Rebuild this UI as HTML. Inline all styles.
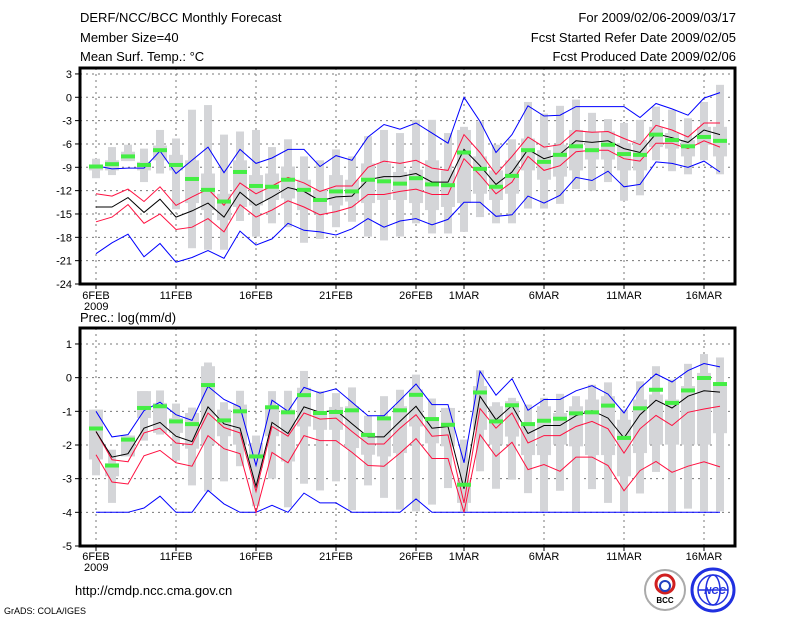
<!DOCTYPE html>
<html><head><meta charset="utf-8"><style>
body{margin:0;background:#fff;width:800px;height:618px;overflow:hidden;font-family:"Liberation Sans",sans-serif}
svg{position:absolute;left:0;top:0}
</style></head><body>
<svg id="c" width="800" height="618" xmlns="http://www.w3.org/2000/svg"></svg>
<script>
const dayLabels=["6FEB","11FEB","16FEB","21FEB","26FEB","1MAR","6MAR","11MAR","16MAR"];
const dayLabelIdx=[0,5,10,15,20,23,28,33,38];
const tTicks=[3,0,-3,-6,-9,-12,-15,-18,-21,-24];
const pTicks=[1,0,-1,-2,-3,-4,-5];
// Temperature
const tMean=[-14.1,-14.1,-12.9,-14.8,-13.1,-15.4,-14.6,-13.6,-15.4,-12.2,-13.9,-12.8,-11.6,-12.1,-13.3,-12.8,-12.7,-10.6,-10.2,-10.2,-9.8,-10.9,-10.9,-6.7,-8.8,-11.2,-9.6,-6.7,-7.9,-7.3,-5.6,-5.8,-5.6,-6.6,-7.1,-4.7,-5.2,-5.8,-4.2,-4.8];
const tRedHi=[-12.4,-12.7,-11.8,-13.4,-11.5,-13.9,-12.8,-11.8,-13.9,-11,-12.4,-11.4,-10.3,-11,-12.1,-11.4,-11.4,-9,-8.2,-8.5,-8.1,-9.1,-9.4,-4.8,-7.1,-9.9,-7.6,-5.1,-6.4,-6.1,-4.3,-4.5,-4.4,-5.3,-6.1,-3.6,-4.2,-5.1,-3.3,-3.3];
const tRedLo=[-16,-15.4,-13.8,-16.2,-15,-17,-16.7,-15.6,-17.3,-13.8,-15.4,-14.5,-13.3,-14.1,-15.1,-14.7,-14.1,-12.5,-12.5,-12.1,-11.8,-12.5,-12.5,-7.9,-10,-12.4,-10.9,-7.6,-9.4,-8.8,-7,-6.8,-6.8,-7.9,-8.2,-5.9,-5.9,-6.6,-5.6,-6.4];
const tBlueHi=[-8.8,-9.2,-9.1,-9.1,-6.9,-9.8,-8.1,-6.4,-9.7,-6.7,-8.5,-7.8,-6.7,-6.7,-8.9,-7.5,-8.1,-5.1,-3.5,-4.1,-3.3,-4.6,-5.9,0,-3.1,-7.1,-4.8,-1.1,-2.4,-2.3,-1.2,-1.2,-1.2,-1.2,-2.6,-0.8,-1.5,-2.3,-0.1,0.6];
const tBlueLo=[-20.1,-18.7,-17.6,-20.5,-18.8,-21.2,-20.6,-19.7,-20.7,-17.2,-19,-18.2,-16.2,-17.1,-17.3,-17.7,-16.9,-15.6,-16.7,-15.9,-15.6,-16.4,-15.7,-13.5,-13.5,-15.3,-15.1,-12.7,-13.6,-12.6,-10.3,-10.7,-9.5,-11.5,-11.2,-8.3,-8.5,-9,-8.2,-9.6];
const tGreen=[-8.9,-8.6,-7.6,-8.7,-6.8,-8.7,-10.5,-11.9,-13.4,-9.6,-11.4,-11.5,-10.6,-11.9,-13.2,-12.1,-12.1,-10.6,-10.8,-11.1,-10.4,-11.2,-11.3,-7.1,-9.2,-11.5,-10.1,-6.8,-8.3,-7.4,-6.3,-6.8,-6.1,-7.3,-7.4,-4.8,-5.5,-6.3,-5.1,-5.6];
const tWhiskHi=[-7.9,-6.4,-6.1,-6.6,-4.2,-5.3,-1.6,-1,-4.8,-4.4,-4.2,-6.4,-5.4,-7.6,-8.1,-6.7,-7.6,-5,-4.2,-4.6,-2.9,-2.9,-4.6,-3.8,-3.1,-6.1,-5.4,-0.6,-2.1,-1.1,-0.3,-2,-2.8,-3.3,-2.9,-1.2,-1.6,-2.7,-0.6,1.6];
const tWhiskLo=[-10.4,-10,-8.2,-10.9,-9.8,-14.4,-19.4,-19.6,-19.6,-15.9,-17.9,-16.2,-16.7,-18.7,-18.2,-16.7,-16,-17.9,-18.4,-17.9,-16.2,-17.5,-17.5,-17.3,-15.4,-16.2,-16.2,-14.3,-14.3,-13.7,-11.8,-12,-10.9,-13.3,-12.6,-8.1,-9.5,-9.9,-8.1,-9.9];
const tBoxHi=[-8.8,-8.1,-7,-8.3,-6.2,-7.4,-8.1,-9.8,-12.4,-8.1,-10,-9.8,-8.9,-10.6,-11.9,-10,-10.6,-8.5,-8.5,-9.6,-9.3,-8.1,-9.4,-4.2,-7.6,-9.4,-8.1,-5.3,-6.8,-6.1,-4.2,-4.4,-4.4,-5.9,-5.5,-3.8,-4.6,-5.5,-3.8,-3.8];
const tBoxLo=[-9.4,-9.4,-8.2,-9.4,-8.1,-9.4,-13.6,-14.5,-15.8,-14.1,-13.9,-13.2,-13,-14.5,-14.9,-13.9,-13.4,-13.6,-13.2,-13.2,-13.6,-14.5,-14.1,-13.6,-12.4,-13.2,-12.4,-9.4,-10.6,-10.2,-9.4,-8,-8,-9.4,-9.4,-6.4,-6.6,-7.6,-6.1,-7.6];
// Precip
const pMean=[-1.6,-2.36,-2.26,-1.5,-1.33,-1.74,-1.9,-0.87,-1.37,-1.5,-3.23,-1.33,-1.66,-0.87,-1.03,-0.97,-1.37,-1.76,-1.76,-1.3,-0.85,-1.5,-1.45,-3.3,-0.55,-1.25,-0.83,-1.66,-1.42,-1.42,-1.13,-0.98,-1.2,-1.79,-1.1,-0.67,-0.9,-0.55,-0.39,-0.43];
const pRedHi=[-1.6,-2.44,-2.5,-1.64,-1.5,-1.94,-1.99,-1.05,-1.48,-1.64,-3.38,-1.45,-1.74,-1.05,-1.23,-1.2,-1.6,-1.97,-1.97,-1.5,-1.1,-1.74,-1.7,-3.72,-0.92,-1.5,-1.05,-1.94,-1.72,-1.72,-1.45,-1.3,-1.52,-2.24,-1.52,-1.12,-1.42,-1.03,-0.93,-0.85];
const pRedLo=[-2.29,-3.1,-3.16,-2.32,-2.16,-2.53,-2.63,-1.72,-2.11,-2.26,-4,-2.22,-2.53,-1.72,-1.87,-1.87,-2.22,-2.61,-2.63,-2.24,-1.81,-2.4,-2.4,-4,-1.69,-2.34,-1.92,-2.73,-2.58,-2.78,-2.36,-2.36,-2.61,-3.36,-2.76,-2.49,-2.81,-2.63,-2.5,-2.65];
const pBlueHi=[-1,-1.76,-1.69,-0.98,-0.73,-1.1,-1.27,-0.26,-0.65,-0.87,-2.61,-0.67,-1,-0.29,-0.46,-0.33,-0.73,-1.13,-1.13,-0.67,-0.19,-0.8,-0.8,-2.53,0.19,-0.52,-0.03,-0.97,-0.65,-0.65,-0.39,-0.24,-0.49,-1.05,-0.31,0.11,-0.13,0.21,0.42,0.32];
const pBlueLo=[-4,-4,-4,-3.87,-3.52,-4,-4,-3.35,-3.75,-4,-4,-3.79,-4,-3.43,-3.72,-3.72,-4,-4,-4,-4,-3.6,-4,-4,-4,-4,-4,-4,-4,-4,-4,-4,-4,-4,-4,-4,-4,-4,-4,-4,-4];
const pGreen=[-1.51,-2.61,-1.84,-0.9,-0.85,-1.3,-1.38,-0.22,-1.27,-1,-2.34,-0.88,-1.03,-0.52,-1.05,-1.02,-0.97,-1.7,-1.21,-0.97,-0.51,-1.23,-1.4,-3.18,-0.44,-1.3,-0.82,-1.38,-1.28,-1.22,-1.06,-1.03,-0.83,-1.79,-0.91,-0.36,-0.75,-0.38,-0.01,-0.19];
const pWhiskHi=[-0.95,-2.14,-1.72,-0.4,-0.38,-0.77,-0.89,0.45,-0.73,-0.39,-1.72,-0.4,-0.39,0.2,-0.4,-0.46,-0.29,-1.13,-0.55,-0.36,0.09,-0.62,-0.9,-1.84,0.22,-0.73,-0.6,-0.8,-0.6,-0.48,-0.55,-0.21,-0.14,-0.95,-0.11,0.34,-0.06,0.41,0.7,0.6];
const pWhiskLo=[-2.9,-3.72,-2.34,-1.87,-1.69,-2.46,-3.2,-3.38,-3.08,-2.63,-3.82,-3,-3.85,-3.15,-3.35,-3.08,-3.94,-3.2,-3.57,-3.92,-3.97,-3.77,-3.28,-3.97,-2.78,-3.3,-3.03,-3.43,-3.97,-3.36,-3.97,-3.31,-3.72,-3.97,-3.44,-2.8,-3.97,-3.89,-3.97,-3.97];
const pBoxHi=[-0.95,-2.54,-1.72,-0.4,-0.75,-1.2,-1.05,0.34,-0.95,-0.8,-1.94,-0.85,-0.95,-0.3,-1.05,-0.87,-0.85,-1.65,-1.15,-0.85,-0.35,-1.2,-0.9,-3.03,-0.25,-0.85,-0.7,-1.35,-0.85,-1.05,-0.85,-0.65,-0.55,-1.25,-0.65,-0.5,-0.65,-0.25,0.14,-0.25];
const pBoxLo=[-2.43,-2.93,-2.34,-1.2,-1.64,-1.64,-2.11,-1.99,-1.74,-1.99,-2.68,-1.74,-2.49,-1.45,-1.55,-1.55,-2.09,-2.29,-2.34,-2.24,-1.45,-1.95,-2.04,-3.72,-1.55,-1.99,-1.75,-2.3,-2.3,-1.99,-2.04,-2.3,-2.3,-2.93,-2.24,-1.99,-1.99,-1.99,-1.99,-1.65];

const NS="http://www.w3.org/2000/svg";
const svg=document.getElementById('c');
function mk(tag,attrs,parent){const e=document.createElementNS(NS,tag);for(const k in attrs)e.setAttribute(k,attrs[k]);(parent||svg).appendChild(e);return e;}
function txt(x,y,s,size,anchor){const t=mk('text',{x:x,y:y,'font-size':size,'text-anchor':anchor||'start','font-family':'Liberation Sans, sans-serif',fill:'#000'});t.textContent=s;return t;}
const X0=96,DX=16,L=80,R=735;
function xs(i){return X0+DX*i;}

function panel(name,top,bot,vTop,vBot,ticks,series,labY){
  const ys=v=>top+(vTop-v)/(vTop-vBot)*(bot-top);
  const g=mk('g',{});
  
  
  // grid
  ticks.forEach(t=>{const y=ys(t);if(y>top+1&&y<bot-1){const l=mk('line',{x1:L,x2:R,y1:y,y2:y,stroke:'#777','stroke-dasharray':'2,4','stroke-width':1},g);}});
  dayLabelIdx.forEach(i=>{const x=xs(i);const l=mk('line',{x1:x,x2:x,y1:top,y2:bot,stroke:'#777','stroke-dasharray':'2,4','stroke-width':1},g);});
  // boxes
  const n=series.mean.length;
  for(let i=0;i<n;i++){
    const x=xs(i);
    const w=mk('rect',{x:x-4,y:ys(series.wh[i]),width:8,height:Math.max(1,ys(series.wl[i])-ys(series.wh[i])),fill:'#d4d5d8'},g);
    
    const b=mk('rect',{x:x-7,y:ys(series.bh[i]),width:14,height:Math.max(1,ys(series.bl[i])-ys(series.bh[i])),fill:'#d4d5d8'},g);
    
  }
  const lines=[['blue-hi',series.bh2,'#0000ff'],['blue-lo',series.bl2,'#0000ff'],['red-hi',series.rh,'#ff1040'],['red-lo',series.rl,'#ff1040'],['mean',series.mean,'#000']];
  lines.forEach(([nm,arr,col])=>{
    const p=mk('polyline',{points:arr.map((v,i)=>xs(i)+','+ys(v).toFixed(1)).join(' '),fill:'none',stroke:col,'stroke-width':1},g);
    
  });
  for(let i=0;i<n;i++){
    const r=mk('rect',{x:xs(i)-7,y:ys(series.green[i])-2,width:14,height:4,fill:'#44ee44'},g);
    
  }
  const f=mk('rect',{x:L,y:top,width:R-L,height:bot-top,fill:'none',stroke:'#000','stroke-width':3},g);
  
  ticks.forEach(t=>{const y=ys(t);mk('line',{x1:L-5,x2:L,y1:y,y2:y,stroke:'#000'},g);const tl=txt(L-8,y+4,String(t),11,'end');});
  dayLabelIdx.forEach((i,k)=>{const x=xs(i);mk('line',{x1:x,x2:x,y1:bot,y2:bot+5,stroke:'#000'},g);const tl=txt(x,labY,dayLabels[k],11,'middle');});
  const yr=txt(84,labY+11,'2009',11);
}
const tTop=68,tBot=284,tVBot=-24,tVTop=-24+(284-68)/7.78;
panel('temperature-panel',tTop,tBot,tVTop,tVBot,tTicks,{mean:tMean,rh:tRedHi,rl:tRedLo,bh2:tBlueHi,bl2:tBlueLo,green:tGreen,wh:tWhiskHi,wl:tWhiskLo,bh:tBoxHi,bl:tBoxLo},299);
const pTop=328,pBot=546,pVBot=-5,pVTop=-5+(546-328)/33.67;
panel('precipitation-panel',pTop,pBot,pVTop,pVBot,pTicks,{mean:pMean,rh:pRedHi,rl:pRedLo,bh2:pBlueHi,bl2:pBlueLo,green:pGreen,wh:pWhiskHi,wl:pWhiskLo,bh:pBoxHi,bl:pBoxLo},560);

[['title',80,22,'DERF/NCC/BCC Monthly Forecast','start'],['member-size',80,42,'Member Size=40','start'],['variable-label',80,61,'Mean Surf. Temp.: °C','start'],
 ['forecast-period',736,22,'For 2009/02/06-2009/03/17','end'],['start-date',736,42,'Fcst Started Refer Date 2009/02/05','end'],['produced-date',736,61,'Fcst Produced Date 2009/02/06','end'],
 ['prec-label',80,322,'Prec.: log(mm/d)','start']].forEach(([n,x,y,s,a])=>{const t=txt(x,y,s,13,a);});
const u=txt(75,595,'http://cmdp.ncc.cma.gov.cn',13);
const gr=txt(4,614,'GrADS: COLA/IGES',9);
// logos
const l1=mk('g',{});
mk('circle',{cx:665,cy:590,r:20,fill:'#fff',stroke:'#aaa','stroke-width':2},l1);
mk('circle',{cx:665,cy:584,r:9,fill:'none',stroke:'#d02020','stroke-width':3},l1);
mk('circle',{cx:665,cy:586,r:5,fill:'none',stroke:'#2040c0','stroke-width':2},l1);
const bt=txt(665,603,'BCC',8,'middle');bt.setAttribute('font-weight','bold');
l1.appendChild(bt);
const l2=mk('g',{});
mk('circle',{cx:713,cy:590,r:21,fill:'#fff',stroke:'#2030e0','stroke-width':3},l2);
mk('ellipse',{cx:713,cy:590,rx:15,ry:15,fill:'none',stroke:'#2030e0','stroke-width':1.5},l2);
mk('ellipse',{cx:713,cy:590,rx:7,ry:15,fill:'none',stroke:'#2030e0','stroke-width':1.5},l2);
mk('line',{x1:698,x2:728,y1:590,y2:590,stroke:'#2030e0','stroke-width':1.5},l2);
const nt=txt(715,594,'NCC',10,'middle');nt.setAttribute('fill','#2030e0');nt.setAttribute('font-style','italic');nt.setAttribute('font-weight','bold');
l2.appendChild(nt);
</script>
</body></html>
